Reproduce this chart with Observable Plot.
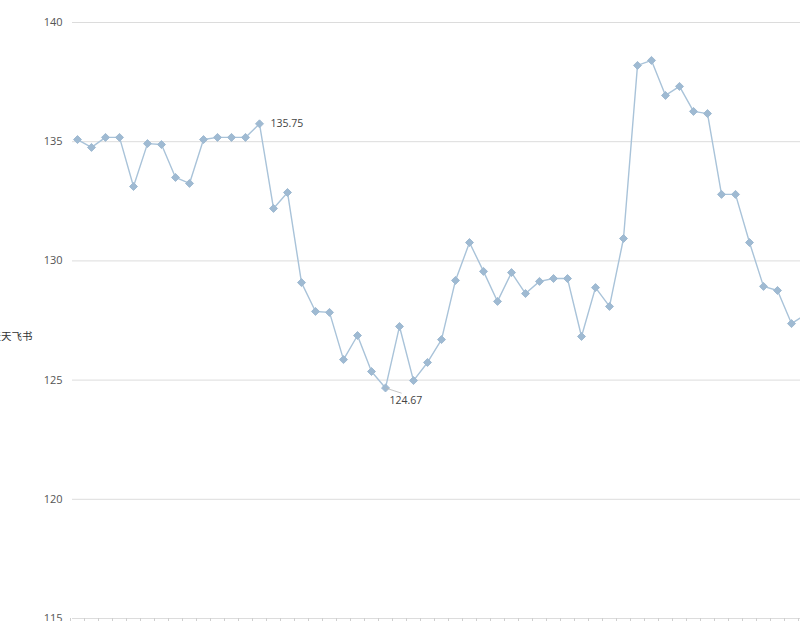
<!DOCTYPE html>
<html>
<head>
<meta charset="utf-8">
<script src="https://cdn.jsdelivr.net/npm/d3@7"></script>
<script src="https://cdn.jsdelivr.net/npm/@observablehq/plot@0.6"></script>
<style>
  html, body { margin: 0; padding: 0; background: #fff; overflow: hidden; width: 800px; height: 621px; }
  #chart svg { overflow: hidden; display: block; }
</style>
</head>
<body>
<div id="chart"></div>
<script>
// Series values (one per period, index order); the last one lies just past the right edge
const values = [
  135.09, 134.76, 135.18, 135.18, 133.12, 134.92, 134.88, 133.50, 133.25, 135.09,
  135.18, 135.18, 135.18, 135.75, 132.20, 132.87, 129.09, 127.88, 127.84, 125.86,
  126.87, 125.36, 124.67, 127.25, 124.98, 125.74, 126.70, 129.18, 130.77, 129.56,
  128.30, 129.51, 128.63, 129.14, 129.26, 129.26, 126.83, 128.88, 128.09, 130.94,
  138.20, 138.41, 136.94, 137.32, 136.27, 136.18, 132.79, 132.79, 130.77, 128.93,
  128.76, 127.37, 127.75
];
const yTicks = [115, 120, 125, 130, 135, 140];
const yLabel = "天天飞书";
const maxIndex = 13;   // annotated high
const minIndex = 22;   // annotated low

const data = values.map((v, i) => ({i, v}));
const xTicks = d3.range(-0.5, values.length, 1);

const lineColor = "#a9c3d9";
const dotColor = "#9fbad2";
const font = "'Open Sans', 'Noto Sans CJK SC', sans-serif";

const hi = [data[maxIndex]];
const lo = [data[minIndex]];

const chart = Plot.plot({
  width: 800,
  height: 621,
  marginTop: 22,
  marginBottom: 3,
  marginLeft: 72,
  marginRight: 0,
  style: {fontFamily: font, fontSize: "11px", color: "#555", background: "#fff"},
  x: {type: "linear", domain: [0, values.length - 1], range: [77, 77 + 14 * (values.length - 1)]},
  y: {domain: [115, 140]},
  marks: [
    Plot.gridY(yTicks, {stroke: "#dcdcdc", strokeOpacity: 1, strokeWidth: 1}),
    Plot.axisY(yTicks, {tickSize: 0, tickPadding: 10, label: null, fill: "#555", fontSize: 11}),
    Plot.axisX(xTicks, {tickSize: 4, tickFormat: () => "", label: null, stroke: "#cfcfcf"}),
    Plot.line(data, {x: "i", y: "v", stroke: lineColor, strokeWidth: 1.4}),
    Plot.dot(data, {x: "i", y: "v", symbol: "diamond2", r: 3.6, fill: dotColor, stroke: dotColor, strokeWidth: 1, strokeLinejoin: "round"}),
    Plot.text(hi, {x: "i", y: "v", text: d => d.v.toFixed(2), dx: 11, textAnchor: "start", fill: "#444", fontSize: 10.5}),
    Plot.link(lo, {x1: "i", y1: "v", x2: d => d.i + 1.15, y2: d => d.v - 0.22, stroke: "#b8b8b8", strokeWidth: 0.8}),
    Plot.text(lo, {x: "i", y: "v", text: d => d.v.toFixed(2), dx: 4, dy: 13, textAnchor: "start", fill: "#444", fontSize: 10.5}),
    Plot.text([yLabel], {frameAnchor: "left", dx: -40, dy: 16, textAnchor: "end", fill: "#333", fontSize: 10.5})
  ]
});
document.getElementById("chart").appendChild(chart);
</script>
</body>
</html>
